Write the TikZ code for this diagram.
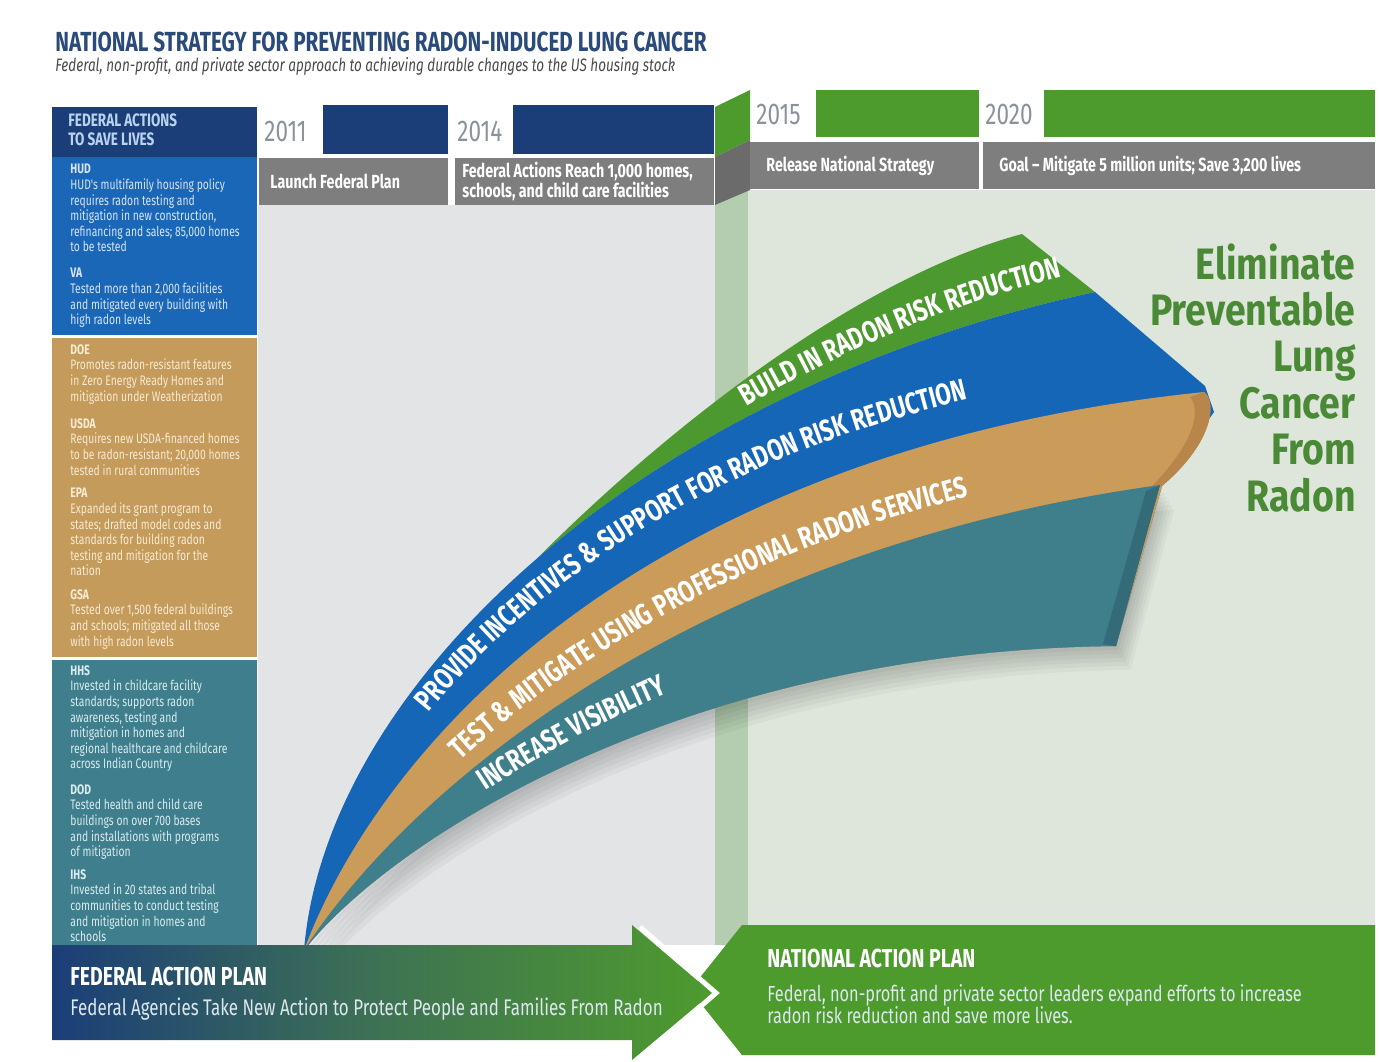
\documentclass[tikz,border=0pt]{standalone}
\usepackage{fontspec}
\setmainfont{Fira Sans}
\newfontfamily\cnd[FakeStretch=0.75]{Fira Sans}
\newfontfamily\semi[FakeStretch=0.85]{Fira Sans}
\usetikzlibrary{decorations.text}
\definecolor{navy}{HTML}{1B3E78}
\definecolor{sideblue}{HTML}{1A67B7}
\definecolor{sidetan}{HTML}{C49B5A}
\definecolor{sideteal}{HTML}{3F7E8C}
\definecolor{graybar}{HTML}{7E7E7E}
\definecolor{yeargreen}{HTML}{4E9B2D}
\definecolor{bandgreen}{HTML}{4C9A2F}
\definecolor{bandblue}{HTML}{1566B6}
\definecolor{bandtan}{HTML}{CB9B59}
\definecolor{tandark}{HTML}{B8864A}
\definecolor{bandteal}{HTML}{3F7F8C}
\definecolor{tealdark}{HTML}{336B78}
\definecolor{leftbg}{HTML}{E3E4E6}
\definecolor{rightbg}{HTML}{DEE6DB}
\definecolor{vband}{HTML}{B4CDB0}
\definecolor{biggreen}{HTML}{4A8A37}
\definecolor{titleblue}{HTML}{2A4A7A}
\definecolor{subgray}{HTML}{4A4A4A}
\definecolor{bluetxt}{HTML}{D6E4F2}
\definecolor{tantxt}{HTML}{F6EAD2}
\definecolor{tealtxt}{HTML}{D8ECEF}
\definecolor{headtxt}{HTML}{B9D3EE}
\definecolor{yeartxt}{HTML}{8A939C}
\definecolor{fedtxt}{HTML}{DCE7EE}
\newcommand\bandfont{\cnd\bfseries\fontsize{15}{16}\selectfont}
\tikzset{
  side/.style={inner sep=0pt, anchor=north west, align=left, font=\cnd\fontsize{6.9}{7.8}\selectfont},
  yearlbl/.style={inner sep=0pt, anchor=west, text=yeartxt, font=\cnd\fontsize{15}{15}\selectfont},
  graytxt/.style={inner sep=0pt, anchor=west, align=left, text=white, font=\cnd\bfseries\fontsize{9.5}{10}\selectfont},
  plantitle/.style={inner sep=0pt, anchor=west, text=white, font=\cnd\bfseries\fontsize{13}{13}\selectfont},
  bandtext/.style={decorate, decoration={text along path, text color=white}}
}
\begin{document}
\begin{tikzpicture}[x=0.5pt,y=-0.5pt]
\useasboundingbox (0,0) rectangle (1379,1061);
\fill[white] (0,0) rectangle (1379,1061);

% title
\node[inner sep=0pt, anchor=south west, text=titleblue, font=\cnd\bfseries\fontsize{13.8}{14}\selectfont] (title) at (55,52) {NATIONAL STRATEGY FOR PREVENTING RADON-INDUCED LUNG CANCER};
\node[inner sep=0pt, anchor=south west, text=subgray, font=\cnd\itshape\fontsize{9}{9}\selectfont] (subtitle) at (55,76) {Federal, non-profit, and private sector approach to achieving durable changes to the US housing stock};

% backgrounds
\fill[leftbg] (258,205) rectangle (718,945);
\fill[rightbg] (748,190) rectangle (1375,925);
\fill[vband] (715,190) rectangle (748,945);

% left sidebar
\fill[navy] (52,107) rectangle (257,157);
\fill[sideblue] (52,157) rectangle (257,335);
\fill[sidetan] (52,338) rectangle (257,657);
\fill[sideteal] (52,660) rectangle (257,945);
\node[inner sep=0pt, anchor=north west, align=left, text=headtxt, font=\cnd\bfseries\fontsize{9}{9.5}\selectfont] (sidehead) at (68,113) {FEDERAL ACTIONS\\TO SAVE LIVES};

\node[side, text=bluetxt] (b1) at (70,164) {\textbf{HUD}\\HUD's multifamily housing policy\\requires radon testing and\\mitigation in new construction,\\refinancing and sales; 85,000 homes\\to be tested};
\node[side, text=bluetxt] (b2) at (70,268) {\textbf{VA}\\Tested more than 2,000 facilities\\and mitigated every building with\\high radon levels};
\node[side, text=tantxt] (t1) at (70,344) {\textbf{DOE}\\Promotes radon-resistant features\\in Zero Energy Ready Homes and\\mitigation under Weatherization};
\node[side, text=tantxt] (t2) at (70,418) {\textbf{USDA}\\Requires new USDA-financed homes\\to be radon-resistant; 20,000 homes\\tested in rural communities};
\node[side, text=tantxt] (t3) at (70,488) {\textbf{EPA}\\Expanded its grant program to\\states; drafted model codes and\\standards for building radon\\testing and mitigation for the\\nation};
\node[side, text=tantxt] (t4) at (70,589) {\textbf{GSA}\\Tested over 1,500 federal buildings\\and schools; mitigated all those\\with high radon levels};
\node[side, text=tealtxt] (e1) at (70,665) {\textbf{HHS}\\Invested in childcare facility\\standards; supports radon\\awareness, testing and\\mitigation in homes and\\regional healthcare and childcare\\across Indian Country};
\node[side, text=tealtxt] (e2) at (70,784) {\textbf{DOD}\\Tested health and child care\\buildings on over 700 bases\\and installations with programs\\of mitigation};
\node[side, text=tealtxt] (e3) at (70,869) {\textbf{IHS}\\Invested in 20 states and tribal\\communities to conduct testing\\and mitigation in homes and\\schools};

% timeline top row
\node[yearlbl] (y2011) at (264,131) {2011};
\fill[navy] (323,105) rectangle (448,154);
\node[yearlbl] (y2014) at (457,131) {2014};
\fill[navy] (513,105) rectangle (714,154);
\fill[graybar] (259,158) rectangle (448,205);
\fill[graybar] (455,158) rectangle (714,205);
\node[graytxt] (launch) at (270,181) {Launch Federal Plan};
\node[graytxt] (reach) at (462,181) {Federal Actions Reach 1,000 homes,\\schools, and child care facilities};
\fill[yeargreen] (715,107) -- (750,90) -- (750,140) -- (715,157) -- cycle;
\fill[graybar!85!black] (715,157) -- (750,140) -- (750,190) -- (715,205) -- cycle;
\node[yearlbl] (y2015) at (756,114) {2015};
\fill[yeargreen] (816,90) rectangle (979,137);
\node[yearlbl] (y2020) at (985,114) {2020};
\fill[yeargreen] (1044,90) rectangle (1375,137);
\fill[graybar] (750,142) rectangle (979,189);
\fill[graybar] (983,142) rectangle (1375,189);
\node[graytxt] (release) at (766,166) {Release National Strategy};
\node[graytxt] (goal) at (999,166) {Goal – Mitigate 5 million units; Save 3,200 lives};

% big statement
\node[inner sep=0pt, anchor=north east, align=right, text=biggreen, font=\semi\bfseries\fontsize{22}{23.2}\selectfont] (goaltext) at (1356,243) {Eliminate\\Preventable\\Lung\\Cancer\\From\\Radon};

% shadow under the sweep
\foreach \k in {4,8,12,16,20,24}{
  \fill[black, opacity=0.035, shift={(\k*0.6,\k)}] (304,950) .. controls (408,790) and (689.5,550) .. (1160,485) -- (1116,646) .. controls (700,650) and (400,830) .. (304,950) -- cycle;
}

% sweeping bands (blue outermost at the foot, green on top)
\fill[bandgreen] (537.1,558.4) .. controls (655,440) and (850,280) .. (1022,234) -- (1095,292) .. controls (867.5,341) and (675.25,439.25) .. (537.1,558.4) -- cycle;
\fill[bandblue] (304,950) .. controls (326,685) and (640,390) .. (1095,292) -- (1205,386) -- (1214,412) -- (1162,486) -- (1116,646) .. controls (700,650) and (400,830) .. (304,950) -- cycle;
\fill[bandtan] (304,950) .. controls (385,735) and (653.5,448.5) .. (1204,392) .. controls (1216,400) and (1216,440) .. (1162,486) -- (1116,646) .. controls (700,650) and (400,830) .. (304,950) -- cycle;
\fill[tandark] (1204,392) .. controls (1216,400) and (1216,440) .. (1162,486) -- (1150,488) .. controls (1198,440) and (1200,408) .. (1190,397) -- cycle;
\fill[bandteal] (304,950) .. controls (408,790) and (689.5,550) .. (1160,485) -- (1116,646) .. controls (700,650) and (400,830) .. (304,950) -- cycle;
\fill[tealdark] (1146,491) -- (1160,485) -- (1116,646) -- (1103,644) -- cycle;

% band labels
\path[bandtext, decoration={text={|\bandfont|BUILD IN RADON RISK REDUCTION}, text align={right, right indent=6pt}}] (537.1,558.4) .. controls (669.2,439.5) and (862,322.7) .. (1073,274.6);
\path[bandtext, decoration={text={|\bandfont|PROVIDE INCENTIVES {\&} SUPPORT FOR RADON RISK REDUCTION}, text align={right, right indent=106pt}}] (304,950) .. controls (368,705) and (640,412.5) .. (1176.75,367);
\path[bandtext, decoration={text={|\bandfont|TEST {\&} MITIGATE USING PROFESSIONAL RADON SERVICES}, text align={right, right indent=103pt}}] (304,950) .. controls (405,775) and (680,512) .. (1171,461.75);
\path[bandtext, decoration={text={|\bandfont|INCREASE VISIBILITY}, text align={right, right indent=240pt}}] (304,950) .. controls (408,818) and (696,612) .. (1132.7,584.8);

% national action plan box
\fill[yeargreen] (742,925) -- (1375,925) -- (1375,1055) -- (742,1055) -- (690,990) -- cycle;
\node[plantitle] (nap) at (767,958) {NATIONAL ACTION PLAN};
\node[inner sep=0pt, anchor=north west, align=left, text=fedtxt, font=\cnd\fontsize{10.9}{11}\selectfont] (naptext) at (767,984) {Federal, non-profit and private sector leaders expand efforts to increase\\radon risk reduction and save more lives.};

% federal action plan arrow
\shade[left color=navy, right color=yeargreen, middle color=navy!45!yeargreen!90!gray] (52,945) -- (632,945) -- (632,925) -- (712,993) -- (632,1060) -- (632,1040) -- (52,1040) -- cycle;
\draw[white, line width=2.5pt, line join=miter] (640,927) -- (716,993) -- (640,1059);
\node[plantitle] (fap) at (70,976) {FEDERAL ACTION PLAN};
\node[inner sep=0pt, anchor=west, text=fedtxt, font=\cnd\fontsize{11.3}{11.3}\selectfont] (faptext) at (70,1009) {Federal Agencies Take New Action to Protect People and Families From Radon};
\end{tikzpicture}
\end{document}
